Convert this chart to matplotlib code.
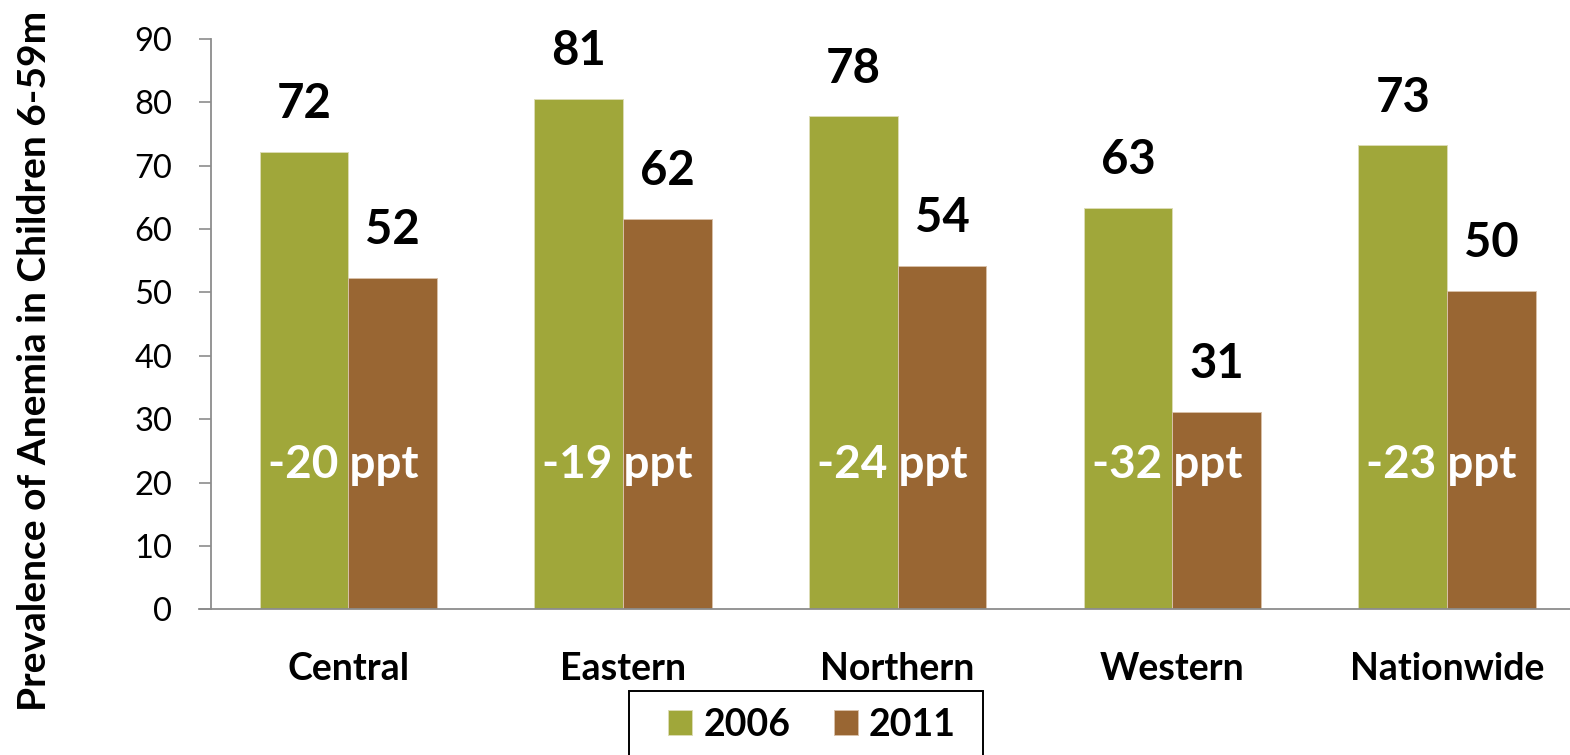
import numpy as np
import matplotlib
matplotlib.use('Agg')
from matplotlib import pyplot as plt
from matplotlib.patches import Rectangle

# Data
regions = ['Central', 'Eastern', 'Northern', 'Western', 'Nationwide']
anemia2006 = [72.2, 80.6, 77.8, 63.4, 73.2]
anemia2011 = [52.3, 61.6, 54.2, 31.2, 50.3]
changeLabels = ['-20 ppt', '-19 ppt', '-24 ppt', '-32 ppt', '-23 ppt']
yTicks = [0, 10, 20, 30, 40, 50, 60, 70, 80, 90]

green = '#a0a73a'
brown = '#996633'
axisGrey = '#8c8c8c'

plt.rcParams['font.family'] = ['Lato', 'DejaVu Sans']

fig = plt.figure(figsize=(15.7, 7.55), dpi=100)
ax = fig.add_axes([211 / 1570, 1 - 609.3 / 755, 1 - 211 / 1570, 570.3 / 755])

x = np.arange(len(regions))
w = 0.3225
ax.bar(x - w / 2, anemia2006, w, color=green, edgecolor='#dcdcb4', linewidth=0.7, label='2006')
ax.bar(x + w / 2, anemia2011, w, color=brown, edgecolor='#d8c0a8', linewidth=0.7, label='2011')

# value labels above the bars
for xi, v in zip(x, anemia2006):
    ax.annotate(f'{v:.0f}', (xi - w / 2, v), xytext=(0, 18.5), textcoords='offset points',
                ha='center', va='bottom', fontsize=34, fontweight='bold')
for xi, v in zip(x, anemia2011):
    ax.annotate(f'{v:.0f}', (xi + w / 2, v), xytext=(0, 18.5), textcoords='offset points',
                ha='center', va='bottom', fontsize=34, fontweight='bold')

# change between the years
for xi, lab in zip(x, changeLabels):
    ax.text(xi - 0.02, 20.7, lab, ha='center', va='baseline', color='white',
            fontsize=33, fontweight='bold')

ax.set_xlim(-0.5, (1570 - 349.5) / 274.4)
ax.set_ylim(0, 90)
ax.set_yticks(yTicks)
ax.set_xticks(x)
ax.set_xticklabels(regions, fontsize=27, fontweight='bold')
ax.tick_params(axis='x', length=0, pad=31)
ax.tick_params(axis='y', length=9, width=1.2, color=axisGrey, labelsize=23.5, pad=19)

for s in ['top', 'right']:
    ax.spines[s].set_visible(False)
for s in ['left', 'bottom']:
    ax.spines[s].set_color(axisGrey)
    ax.spines[s].set_linewidth(1.3)

# extend the baseline left to meet the zero tick
ax.plot([-0.5 - 12 / 274.4, -0.5], [0, 0], color=axisGrey, lw=1.3, clip_on=False)

fig.text(35 / 1570, 1 - 361 / 755, 'Prevalence of Anemia in Children 6-59m',
         rotation=90, ha='center', va='center', fontsize=28, fontweight='bold')

# legend, its box runs off the bottom of the figure
leg = fig.legend(loc='center', bbox_to_anchor=(812 / 1570, 1 - 725 / 755),
                 bbox_transform=fig.transFigure,
                 ncol=2, frameon=False, prop={'weight': 'bold', 'size': 27},
                 handlelength=0.64, handleheight=0.64, handletextpad=0.3,
                 columnspacing=1.15, borderaxespad=0, borderpad=0)
fig.patches.append(Rectangle((629 / 1570, -0.05), (983 - 629) / 1570, 0.05 + 64 / 755,
                             transform=fig.transFigure, fill=False, edgecolor='black',
                             linewidth=1.4, clip_on=False))

fig.savefig('out.png', dpi=100)
